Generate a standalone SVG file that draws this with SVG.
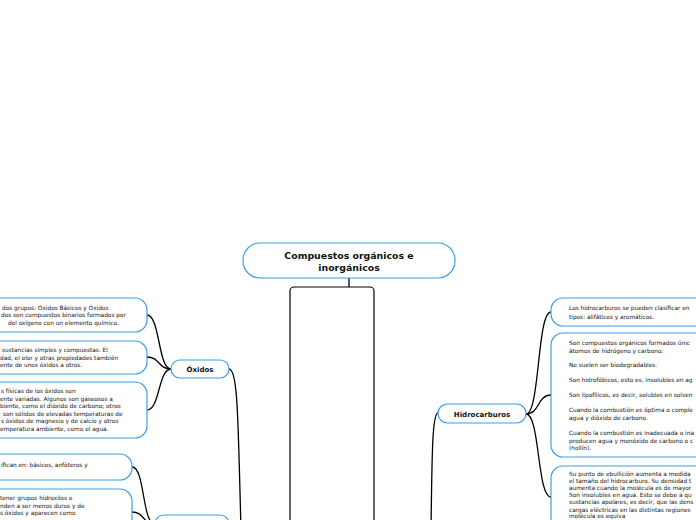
<svg xmlns="http://www.w3.org/2000/svg" width="696" height="520" viewBox="0 0 696 520">
<style>
.box{fill:#fff;stroke:#3d9fe6;stroke-width:1.2}
.core{fill:#fff;stroke:#000;stroke-width:1.2}
.c{fill:none;stroke:#000;stroke-width:1.3}
.t{font-family:"DejaVu Sans",Verdana,sans-serif;font-size:5.8px;fill:#111}
.b{font-family:"DejaVu Sans",Verdana,sans-serif;font-size:7px;font-weight:bold;fill:#111;text-anchor:middle}
.title{font-family:"DejaVu Sans",Verdana,sans-serif;font-size:9.4px;font-weight:bold;fill:#111;text-anchor:middle}
</style>
<rect width="696" height="520" fill="#fff"/>
<g id="connectors">
<line class="c" x1="349" y1="278" x2="349" y2="287"/>
<path class="c" d="M229,369 C238,369 238,420 241,530"/>
<path class="c" d="M438,413 C432,413 432,460 431,530"/>
<path class="c" d="M171,369 C158,369 160,315 147,315"/>
<path class="c" d="M171,369 C158,369 160,357 147,357"/>
<path class="c" d="M171,369 C158,369 160,410 147,410"/>
<path class="c" d="M155,524 C142,524 145,467 132,467"/>
<path class="c" d="M155,524 C142,524 145,512 132,512"/>
<path class="c" d="M526,414 C540,414 537,312 551,312"/>
<path class="c" d="M526,414 C540,414 537,395 551,395"/>
<path class="c" d="M526,414 C540,414 537,497 551,497"/>
</g>
<g id="root">
<rect class="box" x="243" y="243" width="212" height="35" rx="17"/>
<text class="title" x="349" y="259">Compuestos orgánicos e</text>
<text class="title" x="349" y="271">inorgánicos</text>
</g>
<g id="core">
<rect class="core" x="290" y="287" width="84" height="280" rx="4"/>
</g>
<g id="oxidos">
<rect class="box" x="171" y="360" width="58" height="18" rx="9"/>
<text class="b" x="200" y="372">Óxidos</text>
</g>
<g id="node-bottom-left">
<rect class="box" x="155" y="515" width="74" height="30" rx="9"/>
</g>
<g id="hidrocarburos">
<rect class="box" x="438" y="404" width="88" height="19" rx="9.5"/>
<text class="b" x="482" y="416.5">Hidrocarburos</text>
</g>
<g id="ox1">
<rect class="box" x="-100" y="298" width="247" height="34" rx="12"/>
<text class="t" x="2" y="309.5">dos grupos: Óxidos Básicos y Óxidos</text>
<text class="t" x="1" y="317">dos son compuestos binarios formados por</text>
<text class="t" x="8" y="324.5">del oxígeno con un elemento químico.</text>
</g>
<g id="ox2">
<rect class="box" x="-100" y="341" width="247" height="33" rx="12"/>
<text class="t" x="2" y="352">sustancias simples y compuestas. El</text>
<text class="t" x="0" y="359.5">dad, el olor y otras propiedades también</text>
<text class="t" x="0" y="367">ente de unos óxidos a otros.</text>
</g>
<g id="ox3">
<rect class="box" x="-100" y="382" width="247" height="56" rx="12"/>
<text class="t" x="1" y="393.3">s físicas de los óxidos son</text>
<text class="t" x="0" y="400.8">ente variadas. Algunos son gaseosos a</text>
<text class="t" x="0" y="408.3">biente, como el dióxido de carbono; otros</text>
<text class="t" x="3" y="415.8">son sólidos de elevadas temperaturas de</text>
<text class="t" x="1" y="423.3">s óxidos de magnesio y de calcio y otros</text>
<text class="t" x="0" y="430.8">emperatura ambiente, como el agua.</text>
</g>
<g id="ox4">
<rect class="box" x="-100" y="454" width="232" height="26" rx="12"/>
<text class="t" x="1" y="467">ifican en: básicos, anfóteros y</text>
</g>
<g id="ox5">
<rect class="box" x="-100" y="489" width="232" height="60" rx="12"/>
<text class="t" x="0" y="500">tener grupos hidroxilos o</text>
<text class="t" x="0" y="507.5">nden a ser menos duros y de</text>
<text class="t" x="0" y="515">s óxidos y aparecen como</text>
</g>
<g id="hc1">
<rect class="box" x="551" y="298" width="250" height="28" rx="12"/>
<text class="t" x="569" y="310">Los hidrocarburos se pueden clasificar en</text>
<text class="t" x="569" y="318.5">tipos: alifáticos y aromáticos.</text>
</g>
<g id="hc2">
<rect class="box" x="551" y="333" width="250" height="124" rx="12"/>
<text class="t" x="569" y="345">Son compuestos orgánicos formados únic</text>
<text class="t" x="569" y="352.5">átomos de hidrógeno y carbono.</text>
<text class="t" x="569" y="367">No suelen ser biodegradables.</text>
<text class="t" x="569" y="382">Son hidrofóbicos, esto es, insolubles en ag</text>
<text class="t" x="569" y="397">Son lipofílicos, es decir, solubles en solven</text>
<text class="t" x="569" y="412">Cuando la combustión es óptima o comple</text>
<text class="t" x="569" y="419.5">agua y dióxido de carbono.</text>
<text class="t" x="569" y="435">Cuando la combustión es inadecuada o ina</text>
<text class="t" x="569" y="442.5">producen agua y monóxido de carbono o c</text>
<text class="t" x="569" y="450">(hollín).</text>
</g>
<g id="hc3">
<rect class="box" x="551" y="466" width="250" height="90" rx="12"/>
<text class="t" x="569" y="476">Su punto de ebullición aumenta a medida</text>
<text class="t" x="569" y="483.1">el tamaño del hidrocarburo. Su densidad t</text>
<text class="t" x="569" y="490.2">aumenta cuando la molécula es de mayor</text>
<text class="t" x="569" y="497.3">Son insolubles en agua. Esto se debe a qu</text>
<text class="t" x="569" y="504.4">sustancias apolares, es decir, que las dens</text>
<text class="t" x="569" y="511.5">cargas eléctricas en las distintas regiones</text>
<text class="t" x="569" y="518.4">molécula es equiva</text>
</g>
</svg>
